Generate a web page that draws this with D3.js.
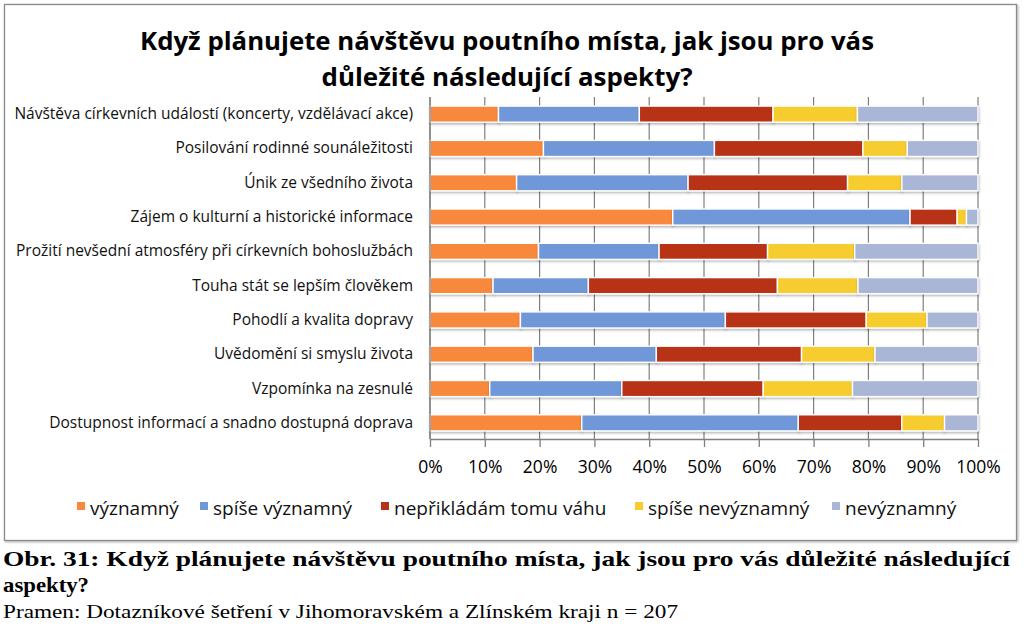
<!DOCTYPE html>
<html><head><meta charset="utf-8">
<script src="https://cdn.jsdelivr.net/npm/d3@7"></script>
<style>
html,body{margin:0;padding:0;background:#fff;}
svg{display:block;}
</style></head>
<body>
<svg id="chart" width="1024" height="632"></svg>
<script>
const categories = [
  "Návštěva církevních událostí (koncerty, vzdělávací akce)",
  "Posilování rodinné sounáležitosti",
  "Únik ze všedního života",
  "Zájem o kulturní a historické informace",
  "Prožití nevšední atmosféry při církevních bohoslužbách",
  "Touha stát se lepším člověkem",
  "Pohodlí a kvalita dopravy",
  "Uvědomění si smyslu života",
  "Vzpomínka na zesnulé",
  "Dostupnost informací a snadno dostupná doprava"
];
const seriesNames = ["významný","spíše významný","nepřikládám tomu váhu","spíše nevýznamný","nevýznamný"];
const vyznamny        = [12.5, 20.7, 15.8, 44.3, 19.8, 11.5, 16.5, 18.8, 10.9, 27.7];
const spiseVyznamny   = [25.7, 31.2, 31.3, 43.3, 22.0, 17.4, 37.4, 22.5, 24.1, 39.5];
const neprikladam     = [24.4, 27.1, 29.1,  8.6, 19.8, 34.5, 25.7, 26.5, 25.8, 18.9];
const spiseNevyznamny = [15.4,  8.1,  9.9,  1.7, 15.9, 14.7, 11.1, 13.4, 16.3,  7.8];
const nevyznamny      = [22.0, 12.9, 13.9,  2.1, 22.5, 21.9,  9.3, 18.8, 22.9,  6.1];
const tickValues = [0,10,20,30,40,50,60,70,80,90,100];
const tickLabels = ["0%","10%","20%","30%","40%","50%","60%","70%","80%","90%","100%"];
const titleLines = ["Když plánujete návštěvu poutního místa, jak jsou pro vás","důležité následující aspekty?"];
const captionLines = ["Obr. 31: Když plánujete návštěvu poutního místa, jak jsou pro vás důležité následující","aspekty?"];
const sourceText = "Pramen: Dotazníkové šetření v Jihomoravském a Zlínském kraji n = 207";
const colors = ["#F8883A","#7098D8","#B83119","#F6CC2E","#A9B6D6"];

const allSeries = [vyznamny, spiseVyznamny, neprikladam, spiseNevyznamny, nevyznamny];
const rows = categories.map((c,i)=>{
  const r = {cat:c};
  seriesNames.forEach((s,j)=>{ r[s] = allSeries[j][i]; });
  return r;
});
const stack = d3.stack().keys(seriesNames).offset(d3.stackOffsetExpand)(rows);

const svg = d3.select("#chart");
const defs = svg.append("defs");
const f = defs.append("filter").attr("id","sh").attr("x","-5%").attr("y","-30%").attr("width","110%").attr("height","180%");
f.append("feDropShadow").attr("dx",0.5).attr("dy",1.5).attr("stdDeviation",0.8).attr("flood-color","#000").attr("flood-opacity",0.3);
const fb = defs.append("filter").attr("id","shb").attr("x","-2%").attr("y","-2%").attr("width","104%").attr("height","104%");
fb.append("feDropShadow").attr("dx",1).attr("dy",1).attr("stdDeviation",1).attr("flood-color","#000").attr("flood-opacity",0.35);

// frame
svg.append("rect").attr("x",4.5).attr("y",4.5).attr("width",1012).attr("height",536)
  .attr("fill","#fff").attr("stroke","#8a8a8a").attr("stroke-width",1.3).attr("filter","url(#shb)");

const x = d3.scaleLinear().domain([0,1]).range([430,978]);
const y = d3.scaleBand().domain(categories).range([97,440]).paddingInner(0.53).paddingOuter(0.265);

// gridlines
svg.append("g").selectAll("line").data(tickValues).join("line")
  .attr("x1",d=>x(d/100)).attr("x2",d=>x(d/100)).attr("y1",97).attr("y2",439)
  .attr("stroke","#7f7f7f").attr("stroke-width",1.2);

// bars
const g = svg.append("g");
stack.forEach((s,j)=>{
  g.append("g").attr("fill",colors[j]).attr("filter","url(#sh)")
    .selectAll("rect").data(s).join("rect")
    .attr("x",d=>x(d[0])).attr("width",d=>x(d[1])-x(d[0]))
    .attr("y",d=>y(d.data.cat)).attr("height",y.bandwidth())
    .attr("stroke","#fff").attr("stroke-width",1.4);
});

// x axis
const xAxis = d3.axisBottom(d3.scaleLinear().domain([0,100]).range([430,978]))
  .tickValues(tickValues).tickFormat((d,i)=>tickLabels[i]).tickSize(8).tickPadding(14).tickSizeOuter(0);
const ax = svg.append("g").attr("transform","translate(0,439)").call(xAxis);
ax.select(".domain").attr("stroke","#7f7f7f").attr("stroke-width",1.3);
ax.selectAll(".tick line").attr("stroke","#7f7f7f").attr("stroke-width",1.3);
ax.selectAll(".tick text").attr("font-family","'Open Sans', sans-serif").attr("font-size",17.5).attr("fill","#000");

// y axis line
svg.append("line").attr("x1",430).attr("x2",430).attr("y1",97).attr("y2",439).attr("stroke","#7f7f7f").attr("stroke-width",1.3);

// category labels
const yAxis = d3.axisLeft(y).tickSize(0).tickPadding(17);
const ay = svg.append("g").attr("transform","translate(430,0)").call(yAxis);
ay.select(".domain").remove();
ay.selectAll(".tick text").attr("font-family","'Open Sans', sans-serif").attr("font-size",15.5).attr("fill","#111");

// title
svg.append("g").selectAll("text").data(titleLines).join("text")
  .attr("x",507).attr("y",(d,i)=>50+i*36).attr("text-anchor","middle")
  .attr("font-family","'Open Sans', sans-serif").attr("font-weight","bold").attr("font-size",25)
  .attr("textLength",(d,i)=>i===0?734:371).attr("lengthAdjust","spacingAndGlyphs")
  .text(d=>d);

// legend
const legX = [77,200,381,635,832];
const leg = svg.append("g");
seriesNames.forEach((s,j)=>{
  leg.append("rect").attr("x",legX[j]).attr("y",502).attr("width",8).attr("height",8).attr("fill",colors[j]);
  leg.append("text").attr("x",legX[j]+13).attr("y",515).attr("font-family","'Open Sans', sans-serif")
    .attr("font-size",19).attr("fill","#111").text(s);
});

// caption
svg.append("text").attr("x",3).attr("y",566).attr("font-family","'Liberation Serif', serif").attr("font-weight","bold")
  .attr("font-size",21).attr("textLength",1007).attr("lengthAdjust","spacingAndGlyphs").text(captionLines[0]);
svg.append("text").attr("x",3).attr("y",592).attr("font-family","'Liberation Serif', serif").attr("font-weight","bold")
  .attr("font-size",21).attr("textLength",86).attr("lengthAdjust","spacingAndGlyphs").text(captionLines[1]);
svg.append("text").attr("x",3).attr("y",618).attr("font-family","'Liberation Serif', serif")
  .attr("font-size",19.5).attr("textLength",675).attr("lengthAdjust","spacingAndGlyphs").text(sourceText);
</script>
</body></html>
